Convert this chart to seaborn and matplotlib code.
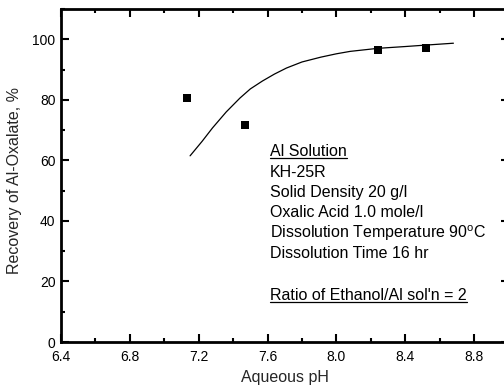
import matplotlib
matplotlib.use("Agg")
import matplotlib.pyplot as plt
import seaborn as sns
import pandas as pd
from matplotlib.ticker import MultipleLocator

# Data
ph_points = [7.13, 7.47, 8.24, 8.52]
recovery_points = [80.7, 71.8, 96.4, 97.2]
curve_ph = [7.15, 7.22, 7.28, 7.36, 7.44, 7.50, 7.57, 7.64, 7.71, 7.80, 7.91, 8.00, 8.08, 8.24, 8.40, 8.50, 8.68]
curve_recovery = [61.5, 66.3, 70.7, 76.0, 80.6, 83.6, 86.2, 88.5, 90.5, 92.5, 94.1, 95.2, 96.0, 97.0, 97.6, 98.0, 98.7]
x_ticks = [6.4, 6.8, 7.2, 7.6, 8.0, 8.4, 8.8]
y_ticks = [0, 20, 40, 60, 80, 100]
info_lines = ["Al Solution", "KH-25R", "Solid Density 20 g/l", "Oxalic Acid 1.0 mole/l",
              "Dissolution Temperature 90$^\\mathregular{o}$C", "Dissolution Time 16 hr",
              "Ratio of Ethanol/Al sol'n = 2"]
info_y = [62.8, 55.9, 49.3, 42.8, 35.9, 29.3, 15.5]
underlined = [0, 6]

sns.set_style("ticks")
plt.rcParams['font.family'] = ['Liberation Sans', 'DejaVu Sans']
plt.rcParams['mathtext.fontset'] = 'custom'
plt.rcParams['mathtext.rm'] = 'Liberation Sans'

fig = plt.figure(figsize=(5.04, 3.91), dpi=100)
ax = fig.add_axes([61/504, 1 - 342/391, 447.5/504, 333/391])

pts = pd.DataFrame({"ph": ph_points, "rec": recovery_points})
crv = pd.DataFrame({"ph": curve_ph, "rec": curve_recovery})
sns.lineplot(data=crv, x="ph", y="rec", ax=ax, color="black", linewidth=0.9, sort=False)
sns.scatterplot(data=pts, x="ph", y="rec", ax=ax, color="black", marker="s", s=36,
                edgecolor="black", linewidth=0)

ax.set_xlim(6.4, 9.0)
ax.set_ylim(0, 110)
ax.set_xticks(x_ticks)
ax.set_xticklabels([f"{v:.1f}" for v in x_ticks])
ax.set_yticks(y_ticks)
ax.xaxis.set_minor_locator(MultipleLocator(0.2))
ax.yaxis.set_minor_locator(MultipleLocator(10))
ax.tick_params(which="both", direction="in", top=True, right=True, colors="black",
               labelsize=10, width=1.5)
ax.tick_params(which="major", length=6, pad=4)
ax.tick_params(which="minor", length=3)
ax.tick_params(axis="x", which="major", pad=6)
for s in ax.spines.values():
    s.set_linewidth(2)
    s.set_color("black")
ax.set_xlabel("Aqueous pH", fontsize=11.5, labelpad=4)
ax.set_ylabel("Recovery of Al-Oxalate, %", fontsize=11.5)
ax.yaxis.set_label_coords(-0.087, 0.485)

texts = []
for line, y in zip(info_lines, info_y):
    t = ax.text(7.615, y, line, fontsize=11.5, va="center", ha="left", color="black")
    texts.append(t)

fig.canvas.draw()
r = fig.canvas.get_renderer()
inv = ax.transData.inverted()
for i in underlined:
    bb = texts[i].get_window_extent(r)
    (x0, y0) = inv.transform((bb.x0, bb.y0 + 1))
    (x1, _) = inv.transform((bb.x1, bb.y0 + 1))
    ax.plot([x0, x1], [y0, y0], color="black", linewidth=0.9)

fig.savefig("out.png", dpi=100)
